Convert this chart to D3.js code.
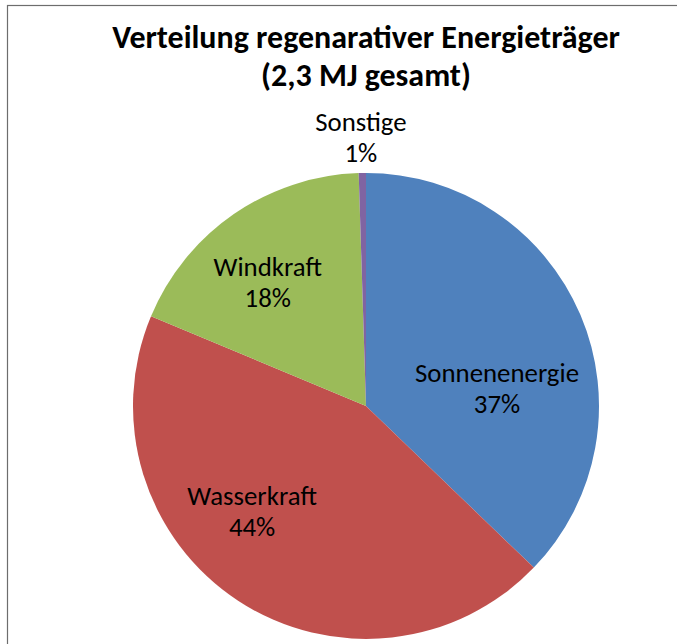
<!DOCTYPE html>
<html><head><meta charset="utf-8">
<script src="https://cdn.jsdelivr.net/npm/d3@7/dist/d3.min.js"></script>
<style>body{margin:0;background:#fff}</style>
</head><body>
<svg id="c" width="677" height="644"></svg>
<script>
const categories = ["Sonnenenergie", "Wasserkraft", "Windkraft", "Sonstige"];
const values = [37.2, 44.1, 18.2, 0.5];
const percentLabels = ["37%", "44%", "18%", "1%"];
const colors = ["#4F81BD", "#C0504D", "#9BBB59", "#8064A2"];
const titleLines = ["Verteilung regenarativer Energieträger", "(2,3 MJ gesamt)"];

const W = 677, H = 644;
const cx = 366, cy = 406, R = 233;
const FONT = "Carlito, 'Liberation Sans Narrow', 'Open Sans', 'Liberation Sans', sans-serif";
// label placement (angle in degrees from top, radius fraction) chosen to mimic Excel best-fit
const labelPlace = [[83.5, 0.566], [226.5, 0.674], [321, 0.67], [-1.1, 1.14]];

const svg = d3.select("#c");
svg.append("rect").attr("x", 7.5).attr("y", 5.5).attr("width", 700).attr("height", 700)
  .attr("fill", "#fff").attr("stroke", "#6d6d6d").attr("stroke-width", 1.2);

const data = categories.map((c, i) => ({ name: c, value: values[i], pct: percentLabels[i], color: colors[i] }));
const pie = d3.pie().value(d => d.value).sort(null);
const arc = d3.arc().innerRadius(0).outerRadius(R);
const arcs = pie(data);
const g = svg.append("g").attr("transform", `translate(${cx},${cy})`);
g.selectAll("path").data(arcs).join("path")
  .attr("d", arc).attr("fill", d => d.data.color);

const title = svg.append("g");
titleLines.forEach((t, i) => {
  const el = title.append("text").attr("x", cx).attr("y", 48 + i * 38)
    .attr("text-anchor", "middle").attr("font-family", FONT)
    .attr("font-weight", "bold").attr("font-size", 26).attr("fill", "#000").text(t);
  if (i === 0) {
    const w = el.node().getComputedTextLength();
    const fs = 26 * 508 / w;
    title.selectAll("text").attr("font-size", fs);
    title.attr("data-fs", fs);
  } else {
    el.attr("font-size", title.attr("data-fs"));
  }
});

// label font size fit: "Sonnenenergie" about 164px wide
const probe = svg.append("text").attr("font-family", FONT).attr("font-size", 20).text("Sonnenenergie");
const lfs = 20 * 164 / probe.node().getComputedTextLength();
probe.remove();

arcs.forEach((a, i) => {
  const [deg, fr] = labelPlace[i];
  const th = deg * Math.PI / 180;
  const x = Math.sin(th) * R * fr, y = -Math.cos(th) * R * fr;
  const t = g.append("text").attr("text-anchor", "middle").attr("font-family", FONT)
    .attr("font-size", lfs).attr("fill", "#000");
  t.append("tspan").attr("x", x).attr("y", y - 9).text(a.data.name);
  t.append("tspan").attr("x", x).attr("y", y + 22).text(a.data.pct);
});
</script>
</body></html>
